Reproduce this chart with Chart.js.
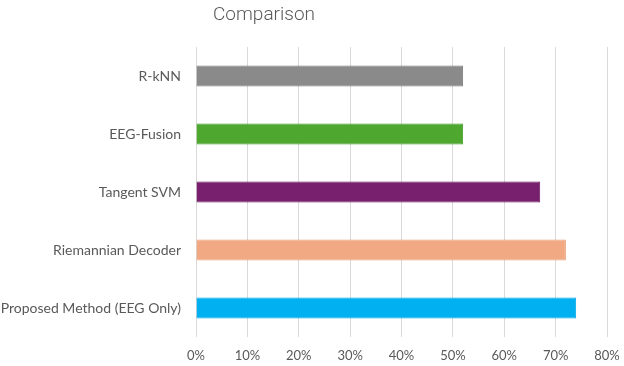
<!DOCTYPE html>
<html lang="en">
<head>
<meta charset="UTF-8">
<title>Comparison</title>
<style>
    body { margin: 0; background: #fff; }
    #wrap { position: relative; width: 624px; height: 366px; }
    #title {
        position: absolute; top: 0; left: 164px; width: 200px; text-align: center;
        font-family: Roboto, sans-serif; font-weight: 300; font-size: 19px;
        line-height: 28px; color: #595959;
    }
</style>
</head>
<body>
<div id="wrap">
    <div id="title">Comparison</div>
    <canvas id="chart" width="624" height="366"></canvas>
</div>

<script src="https://cdn.jsdelivr.net/npm/chart.js"></script>
<script>
// Data
const methods = ['R-kNN', 'EEG-Fusion', 'Tangent SVM', 'Riemannian Decoder', 'Proposed Method (EEG Only)'];
const accuracy = [0.52, 0.52, 0.67, 0.72, 0.74];
const barColors = ['#8a8a8a', '#4ea72e', '#78206e', '#f1a983', '#00b0f0'];
const edgeColors = ['#7a7a7a', '#3f9a22', '#6a1660', '#eba07a', '#00a6e6'];

const ctx = document.getElementById('chart').getContext('2d');
new Chart(ctx, {
    type: 'bar',
    data: {
        labels: methods,
        datasets: [{
            data: accuracy,
            backgroundColor: barColors,
            borderColor: edgeColors,
            borderWidth: 1,
            barPercentage: 0.36,
            categoryPercentage: 1
        }]
    },
    options: {
        indexAxis: 'y',
        responsive: false,
        animation: false,
        layout: { padding: { top: 47, right: 17, bottom: 1, left: 0 } },
        plugins: { legend: { display: false }, tooltip: { enabled: false } },
        scales: {
            x: {
                min: 0, max: 0.8,
                border: { display: false },
                grid: { color: '#d9d9d9', drawTicks: false },
                afterFit: s => { s.paddingRight = 0; s.paddingLeft = 0; s.height = 28; },
                ticks: {
                    stepSize: 0.1, padding: 11, color: '#595959',
                    font: { family: 'Lato, sans-serif', size: 13 },
                    callback: v => Math.round(v * 100) + '%'
                }
            },
            y: {
                border: { display: false },
                grid: { display: false, drawTicks: false },
                afterFit: s => { s.width = 196; },
                ticks: {
                    padding: 15, color: '#595959',
                    font: { family: 'Lato, sans-serif', size: 14 }
                }
            }
        }
    }
});
</script>
</body>
</html>
